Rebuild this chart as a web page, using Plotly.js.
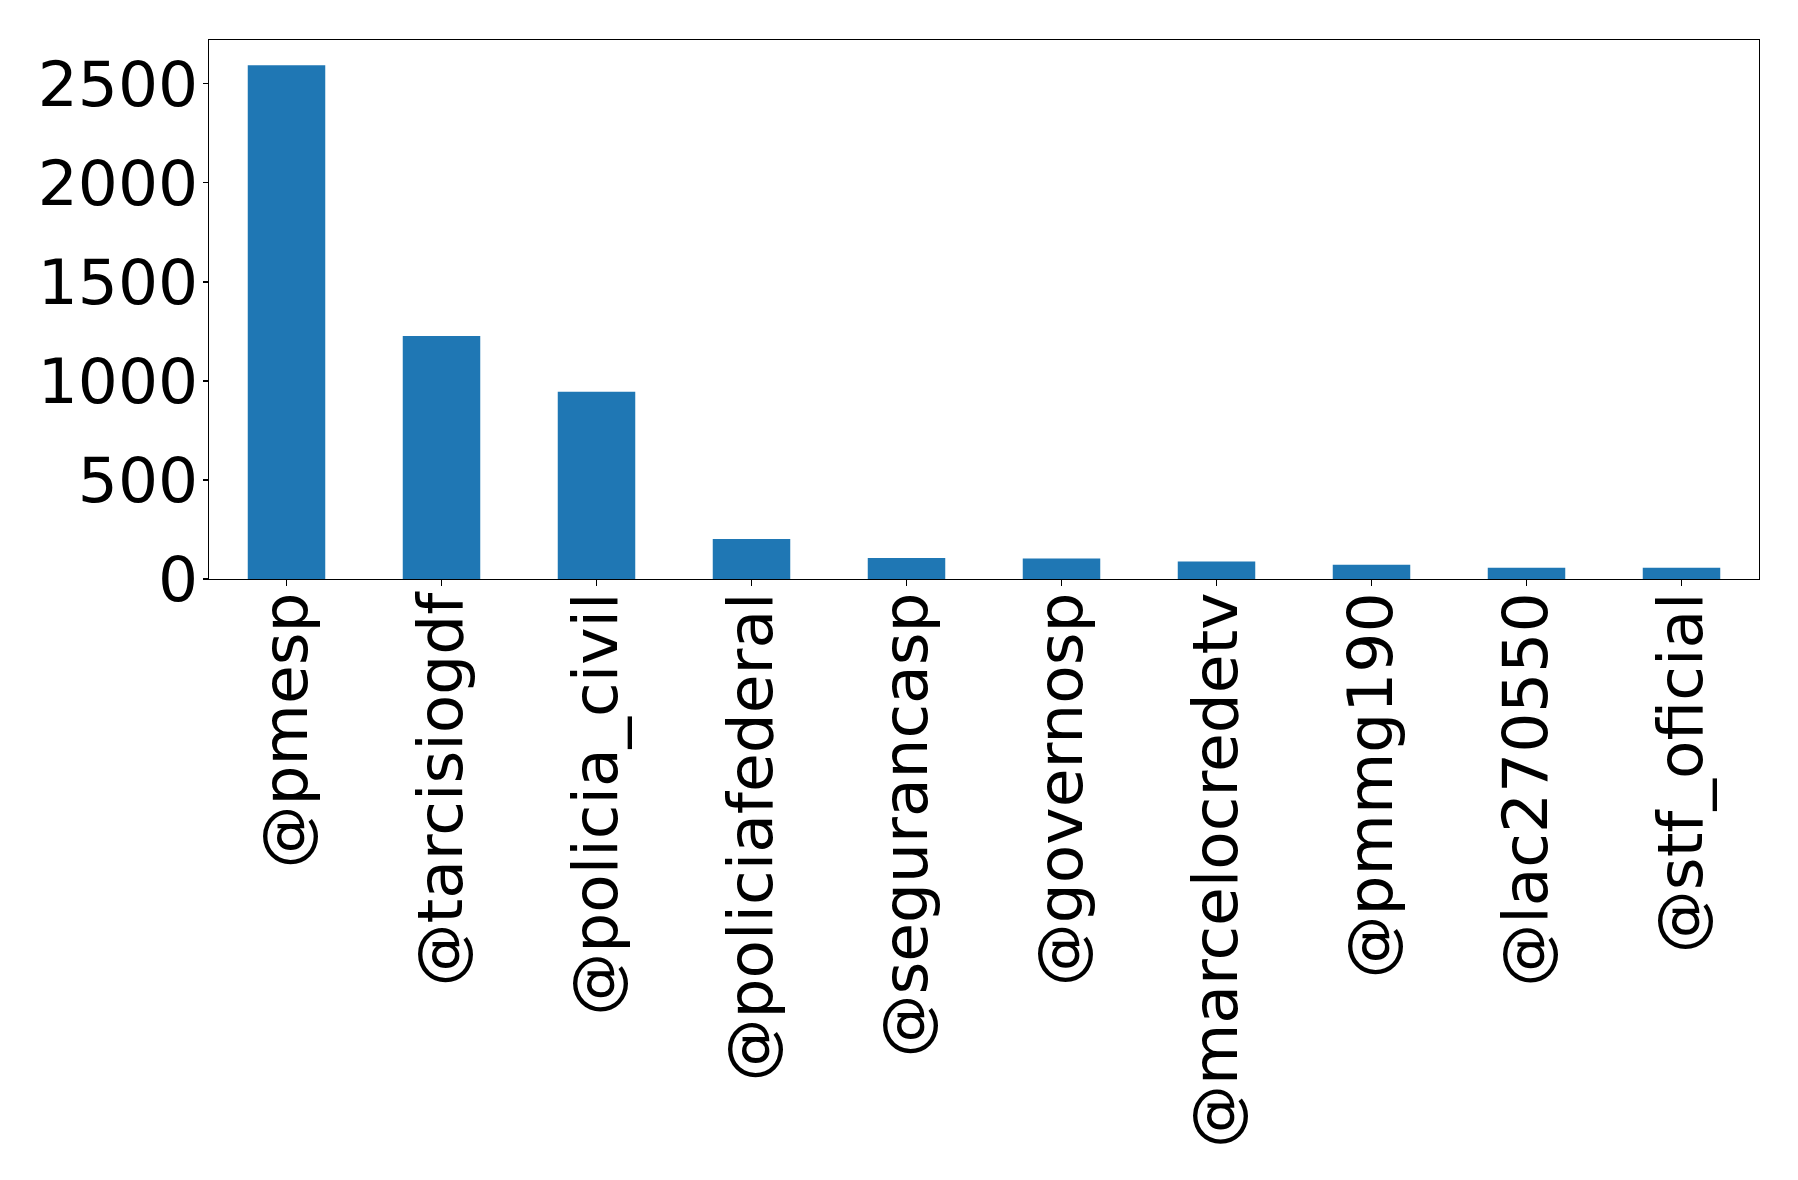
<!DOCTYPE html>
<html>
<head>
<meta charset="utf-8">
<script src="https://cdn.plot.ly/plotly-3.0.1.min.js"></script>
<style>
    html, body { margin: 0; padding: 0; background: #ffffff; }
    #chart { width: 1798px; height: 1180px; }
</style>
</head>
<body>
<div id="chart"></div>
<script>
// Mention counts per account
const accounts = ['@pmesp', '@tarcisiogdf', '@policia_civil', '@policiafederal', '@segurancasp',
                  '@governosp', '@marcelocredetv', '@pmmg190', '@lac270550', '@stf_oficial'];
const counts = [2593, 1227, 945, 202, 106, 103, 88, 72, 57, 57];
const yTicks = [0, 500, 1000, 1500, 2000, 2500];

const trace = {
    x: accounts,
    y: counts,
    type: 'bar',
    width: 0.5,
    marker: { color: '#1f77b4' },
    hoverinfo: 'x+y'
};

const font = { family: 'DejaVu Sans, sans-serif', size: 63, color: '#000000' };

const layout = {
    width: 1798,
    height: 1180,
    margin: { l: 209, r: 39, t: 40, b: 601, pad: 0 },
    paper_bgcolor: '#ffffff',
    plot_bgcolor: '#ffffff',
    showlegend: false,
    font: font,
    xaxis: {
        type: 'category',
        range: [-0.5, accounts.length - 0.5],
        tickangle: -90,
        ticks: 'outside',
        ticklen: 6,
        tickwidth: 1.3,
        tickcolor: '#000000',
        ticklabelstandoff: -19,
        showline: true,
        linecolor: '#000000',
        linewidth: 1.3,
        mirror: true,
        showgrid: false,
        zeroline: false,
        tickfont: font
    },
    yaxis: {
        range: [0, 2721],
        tickmode: 'array',
        tickvals: yTicks,
        ticktext: yTicks.map(String),
        ticks: 'outside',
        ticklen: 5,
        tickwidth: 1.3,
        tickcolor: '#000000',
        ticklabelstandoff: -8,
        showline: true,
        linecolor: '#000000',
        linewidth: 1.3,
        mirror: true,
        showgrid: false,
        zeroline: false,
        tickfont: font
    }
};

Plotly.newPlot('chart', [trace], layout, { displayModeBar: false, staticPlot: true });
</script>
</body>
</html>
